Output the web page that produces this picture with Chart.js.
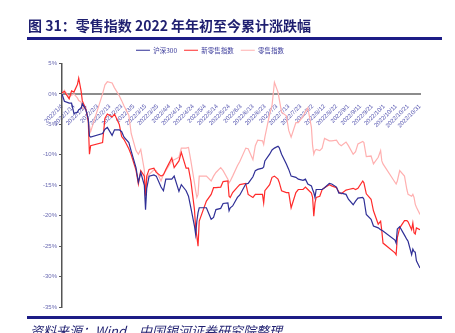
<!DOCTYPE html>
<html>
<head>
<meta charset="utf-8">
<script src="https://cdn.jsdelivr.net/npm/chart.js@4.4.0/dist/chart.umd.min.js"></script>
<style>
  body { margin: 0; width: 455px; height: 333px; overflow: hidden; background: #fff; position: relative; font-family: "Noto Sans CJK SC", sans-serif; }
  #title { position: absolute; left: 28px; top: 17px; font-size: 14px; line-height: 16px; font-weight: bold; color: #1f1f70; white-space: nowrap; }
  .rule { position: absolute; left: 27px; width: 415px; height: 3px; background: #1c1c86; }
  #src { position: absolute; left: 30px; top: 324px; font-size: 13px; line-height: 14px; font-style: italic; color: #1f1f70; white-space: nowrap; }
  #chart { position: absolute; left: 0; top: 0; }
</style>
</head>
<body>
<canvas id="chart" width="455" height="333"></canvas>
<div id="title">图 31：零售指数 2022 年年初至今累计涨跌幅</div>
<div class="rule" style="top:37px"></div>
<div class="rule" style="top:316px"></div>
<div id="src">资料来源：Wind，中国银河证券研究院整理</div>
<script>
// 交易日（2022年）
const dates = [
  '1/4','1/6','1/10','1/12','1/14','1/17','1/18','1/20','1/21','1/24','1/26','1/27','1/28',
  '2/7','2/9','2/11','2/15','2/17','2/21','2/23','2/25',
  '3/1','3/3','3/7','3/9','3/11','3/14','3/15','3/16','3/18','3/22','3/24','3/28','3/30',
  '4/1','4/6','4/8','4/12','4/14','4/18','4/20','4/22','4/25','4/26','4/27','4/28','4/29',
  '5/5','5/9','5/11','5/13','5/17','5/19','5/23','5/24','5/25','5/27','5/31',
  '6/2','6/7','6/9','6/13','6/15','6/17','6/21','6/22','6/23','6/27','6/29',
  '7/1','7/4','7/5','7/7','7/11','7/13','7/15','7/19','7/21','7/25','7/27','7/29',
  '8/1','8/2','8/3','8/4','8/5','8/8','8/10','8/12','8/16','8/18','8/22','8/24','8/26','8/30',
  '9/1','9/5','9/7','9/9','9/13','9/14','9/16','9/20','9/22','9/26','9/28','9/29','9/30',
  '10/10','10/11','10/12','10/14','10/18','10/20','10/21','10/24','10/25','10/26','10/27','10/28','10/31'
];

// 累计涨跌幅 (%)
const hs300 = [
  0,-1.2,-1.5,-1.5,-3.2,-3.0,-2.6,-2.4,-1.6,-2.6,-4.1,-6.9,-7.1,
  -6.5,-5.8,-5.5,-6.8,-5.9,-5.9,-6.2,-7.1,
  -8.0,-9.4,-12.1,-14.5,-12.9,-15.0,-19.0,-15.5,-13.5,-13.3,-13.5,-15.3,-15.9,
  -14.0,-14.0,-13.5,-16.0,-14.9,-15.9,-16.8,-18.7,-21.7,-23.1,-20.9,-19.5,-18.7,
  -18.7,-20.6,-20.3,-19.0,-18.8,-18.0,-17.9,-19.2,-18.7,-18.4,-17.0,
  -16.6,-14.8,-14.7,-13.6,-12.6,-12.4,-12.2,-12.0,-11.0,-9.9,-9.2,
  -8.9,-8.6,-8.8,-9.9,-11.5,-12.4,-13.5,-13.7,-14.0,-14.2,-14.0,-14.8,
  -15.1,-15.7,-16.2,-17.0,-15.7,-15.7,-15.7,-15.4,-14.7,-14.8,-15.3,-16.3,-16.3,-16.5,
  -17.3,-18.2,-17.6,-17.1,-17.0,-17.3,-19.8,-20.6,-21.7,-22.0,-22.3,-22.4,-22.5,
  -24.0,-24.5,-22.2,-21.8,-23.2,-23.9,-24.2,-26.4,-25.5,-25.9,-26.0,-27.4,-28.6
];
const newRetail = [
  0.2,0.4,-0.8,0.5,0.3,1.6,2.6,0.5,-1.1,-2.5,-4.5,-9.9,-8.5,
  -8.0,-4.0,-3.3,-3.8,-3.3,-5.0,-7.0,-7.5,
  -9.0,-10.0,-12.5,-14.8,-12.6,-13.5,-16.7,-13.5,-12.4,-12.2,-12.9,-13.5,-13.3,
  -12.4,-10.5,-12.1,-11.0,-9.6,-12.2,-12.2,-14.3,-19.0,-22.0,-23.4,-25.0,-20.9,
  -17.6,-16.5,-15.4,-15.4,-15.3,-14.4,-14.3,-16.8,-17.0,-16.2,-15.3,
  -14.9,-14.7,-16.5,-17.0,-16.5,-16.5,-16.5,-17.9,-15.9,-14.9,-13.7,
  -13.5,-14.0,-14.5,-15.9,-16.2,-16.2,-18.7,-16.2,-15.7,-15.7,-15.3,-15.7,
  -16.3,-17.0,-20.1,-17.9,-17.0,-16.8,-15.7,-15.4,-14.9,-15.1,-15.4,-16.1,-16.4,-15.8,
  -15.7,-15.5,-15.7,-15.5,-14.3,-14.6,-16.4,-17.3,-19.2,-21.4,-20.9,-22.5,-24.5,
  -26.1,-26.4,-23.6,-22.0,-20.8,-20.8,-21.0,-22.3,-21.2,-22.8,-23.0,-22.0,-22.3
];
const retail = [
  0,0.6,-0.5,-0.2,0,-0.7,-1.1,-1.3,-2.3,-2.5,-4.2,-5.2,-6.2,
  0.0,1.5,2.0,1.8,1.0,-0.3,-1.1,-2.0,
  -3.5,-6.5,-9.3,-9.9,-9.1,-12.5,-17.2,-14.0,-13.2,-12.5,-12.6,-14.3,-13.2,
  -12.6,-11.0,-10.8,-10.4,-8.9,-8.9,-8.8,-11.0,-14.6,-15.9,-17.0,-16.5,-13.5,
  -13.5,-14.3,-13.5,-12.9,-12.1,-12.6,-14.0,-14.6,-14.3,-13.5,-11.8,
  -11.1,-8.9,-9.0,-10.8,-8.5,-7.6,-7.7,-8.3,-7.1,-3.3,-1.9,
  1.9,0.3,-0.8,-3.0,-3.6,-6.0,-7.1,-4.7,-4.7,-3.7,-2.9,-2.3,
  -5.5,-8.5,-9.9,-9.3,-9.1,-9.3,-8.9,-7.3,-7.7,-7.7,-7.6,-8.2,-8.5,-7.9,
  -8.5,-9.9,-9.5,-8.2,-7.8,-8.0,-10.3,-10.2,-11.5,-10.4,-9.3,-11.0,-11.5,
  -14.5,-14.8,-14.3,-12.6,-13.5,-15.7,-16.5,-16.8,-16.5,-17.0,-18.1,-18.6,-19.8
];

// 横轴按自然日排布，0 = 2022/1/4
const DAY = 86400000;
const start = Date.UTC(2022, 0, 4);
function dayIndex(md) {
  const [m, d] = md.split('/').map(Number);
  return (Date.UTC(2022, m - 1, d) - start) / DAY;
}
function dayLabel(v) {
  const dt = new Date(start + v * DAY);
  return '2022/' + (dt.getUTCMonth() + 1) + '/' + dt.getUTCDate();
}
const toPoints = vals => dates.map((md, i) => ({ x: dayIndex(md), y: vals[i] }));

const lineStyle = { borderWidth: 1.2, pointRadius: 0, tension: 0, fill: false };

new Chart(document.getElementById('chart'), {
  type: 'line',
  data: {
    datasets: [
      { label: '沪深300', data: toPoints(hs300), borderColor: '#2f2f96', ...lineStyle },
      { label: '新零售指数', data: toPoints(newRetail), borderColor: '#ff2b2b', ...lineStyle },
      { label: '零售指数', data: toPoints(retail), borderColor: '#ffb0b0', ...lineStyle }
    ]
  },
  options: {
    responsive: false,
    animation: false,
    events: [],
    layout: { padding: { top: 40, right: 35, bottom: 26, left: 0 } },
    plugins: {
      tooltip: { enabled: false },
      legend: {
        labels: {
          usePointStyle: true,
          pointStyle: 'line',
          pointStyleWidth: 14,
          color: '#3b3b9b',
          font: { size: 6.5, family: '"Noto Sans CJK SC", sans-serif' },
          padding: 7
        }
      }
    },
    scales: {
      x: {
        type: 'linear',
        min: 0,
        max: 300,
        position: { y: 0 },
        grid: { display: false },
        border: { color: '#8c8c8c', width: 2 },
        ticks: {
          stepSize: 10,
          autoSkip: false,
          maxRotation: 45,
          minRotation: 45,
          padding: 1,
          color: '#5252ae',
          font: { size: 6, family: '"Liberation Sans", sans-serif' },
          callback: v => dayLabel(v)
        }
      },
      y: {
        min: -35,
        max: 5,
        grid: { drawOnChartArea: false, tickLength: 3, color: '#555' },
        border: { color: '#555', width: 1.5 },
        ticks: {
          stepSize: 5,
          padding: 2,
          color: '#6a6ab2',
          font: { size: 6, family: '"Liberation Sans", sans-serif' },
          callback: v => v + '%'
        },
        afterFit: s => { s.width = 62; }
      }
    }
  }
});
</script>
</body>
</html>
